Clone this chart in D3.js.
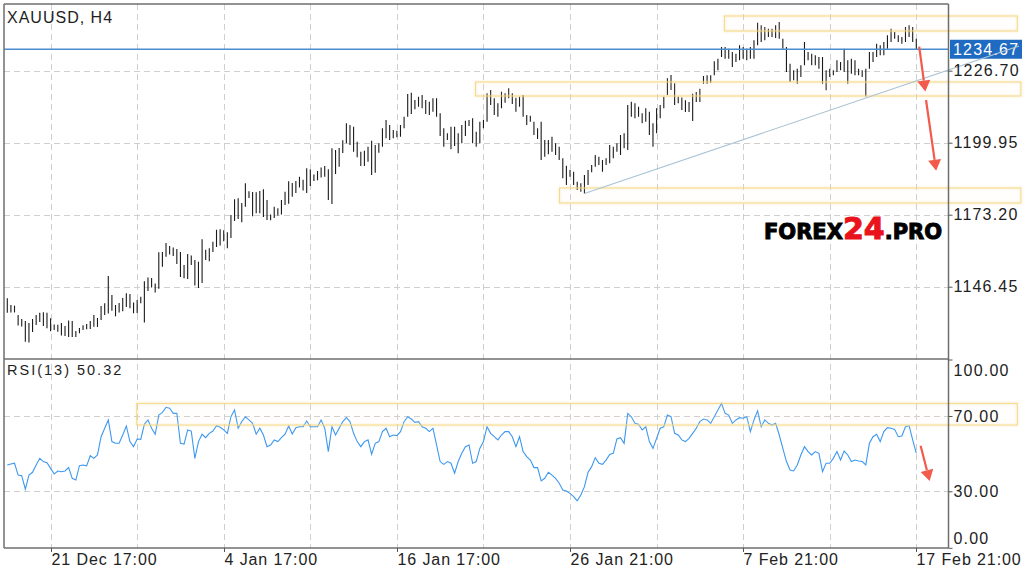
<!DOCTYPE html>
<html><head><meta charset="utf-8">
<script src="https://cdn.jsdelivr.net/npm/d3@7"></script>
<style>
body{margin:0;background:#fff;}
svg{display:block;font-family:"Liberation Sans",Arial,sans-serif;}
</style></head><body>
<svg id="c" width="1024" height="577"></svg>
<script>
// ---- DATA ----
const highs = [1142.15,1139.66,1139.40,1135.95,1134.46,1133.72,1132.97,1134.46,1135.95,1136.77,
1136.95,1136.77,1134.72,1132.42,1132.34,1132.97,1131.86,1133.90,1133.72,1130.00,
1131.12,1132.12,1132.60,1133.72,1135.95,1134.83,1139.29,1140.29,1150.44,1143.38,
1139.66,1140.41,1142.26,1144.01,1143.75,1140.59,1141.52,1142.75,1148.47,1149.88,
1149.69,1147.65,1159.28,1159.35,1162.70,1161.58,1161.02,1160.47,1159.35,1154.52,
1158.61,1158.05,1156.38,1155.75,1164.11,1160.21,1160.73,1163.18,1167.64,1167.79,
1167.41,1166.71,1173.10,1178.93,1179.30,1177.56,1184.87,1181.90,1181.64,1181.57,
1182.01,1182.65,1178.67,1173.28,1176.18,1175.59,1178.67,1181.75,1185.65,1184.99,
1185.73,1187.33,1186.21,1190.45,1190.00,1188.14,1189.44,1190.74,1191.30,1190.07,
1197.88,1197.24,1197.99,1200.85,1207.16,1206.53,1205.90,1200.33,1196.61,1196.98,
1198.47,1200.70,1199.10,1199.73,1205.31,1208.39,1206.53,1204.67,1204.41,1206.53,
1209.62,1218.05,1218.53,1215.82,1217.05,1217.68,1215.82,1215.19,1216.45,1216.45,
1210.88,1205.31,1203.45,1205.90,1205.90,1203.45,1206.53,1208.13,1208.39,1209.02,
1204.04,1207.76,1208.39,1218.31,1219.53,1216.45,1214.59,1218.90,1218.31,1220.17,
1218.31,1216.67,1217.05,1217.68,1210.25,1209.99,1207.76,1205.31,1207.76,1200.96,
1200.96,1202.19,1199.73,1198.47,1194.16,1191.41,1189.81,1189.18,1185.47,1184.87,
1187.96,1189.81,1191.67,1195.39,1194.76,1193.53,1194.16,1199.10,1198.47,1199.73,
1202.82,1203.45,1213.96,1215.19,1214.59,1213.33,1210.88,1212.74,1211.47,1207.16,
1212.74,1213.96,1217.05,1223.88,1225.11,1222.02,1217.05,1216.75,1215.71,1215.08,
1218.16,1218.79,1220.02,1224.74,1225.00,1225.00,1230.20,1231.16,1235.51,1235.51,
1234.88,1233.65,1233.02,1236.14,1235.51,1234.88,1235.51,1238.00,1244.54,1243.57,
1242.94,1242.31,1242.31,1243.57,1244.80,1238.59,1235.51,1229.31,1226.85,1227.45,
1228.71,1237.37,1233.65,1233.02,1232.43,1231.79,1231.79,1226.85,1227.45,1226.85,
1230.57,1229.94,1234.88,1230.57,1231.16,1230.57,1227.45,1226.85,1227.45,1233.65,
1233.65,1236.74,1236.14,1237.37,1239.86,1242.31,1241.08,1239.86,1239.22,1242.94,
1243.57,1242.94,1238.59];
const lows = [1136.80,1136.88,1136.88,1132.05,1131.68,1126.03,1125.73,1129.63,1132.23,1133.35,
1131.86,1131.01,1129.89,1130.37,1129.74,1128.33,1128.15,1127.77,1127.77,1127.77,
1129.15,1130.37,1130.67,1130.75,1131.60,1131.49,1134.09,1135.95,1136.50,1137.51,
1135.46,1136.88,1137.32,1138.92,1138.44,1136.58,1136.58,1140.29,1133.16,1144.86,
1146.16,1144.31,1145.72,1153.89,1157.61,1158.42,1157.87,1154.89,1150.06,1149.58,
1149.32,1154.52,1146.91,1145.98,1147.84,1156.38,1155.93,1159.35,1161.21,1161.77,
1163.36,1160.73,1164.55,1170.87,1171.61,1170.39,1176.18,1179.41,1172.61,1173.73,
1173.73,1172.35,1171.24,1171.13,1171.98,1172.91,1173.28,1176.81,1177.30,1179.90,
1181.27,1183.31,1182.20,1181.27,1183.87,1185.73,1185.99,1187.03,1187.33,1178.67,
1177.18,1188.33,1191.04,1196.13,1199.73,1199.10,1196.61,1194.53,1191.30,1191.30,
1192.90,1187.96,1188.81,1196.24,1198.47,1201.59,1200.96,1201.59,1201.96,1202.19,
1205.31,1209.62,1210.62,1212.37,1213.33,1212.74,1210.62,1210.25,1211.47,1209.62,
1202.45,1198.47,1200.96,1197.51,1198.73,1196.02,1199.73,1202.45,1206.16,1199.73,
1198.47,1199.73,1205.31,1207.76,1213.96,1210.25,1209.62,1212.74,1214.82,1216.45,
1214.33,1211.47,1213.33,1209.62,1206.53,1207.76,1202.82,1201.33,1193.53,1194.76,
1195.65,1196.61,1195.39,1193.53,1186.73,1184.24,1187.33,1184.24,1182.38,1181.75,
1181.08,1184.24,1188.96,1191.04,1191.67,1189.18,1191.67,1192.30,1194.16,1196.61,
1195.39,1197.88,1197.24,1209.62,1209.02,1209.62,1207.16,1207.76,1202.82,1198.47,
1203.45,1209.02,1212.74,1217.68,1219.53,1213.96,1214.59,1212.10,1211.36,1211.36,
1208.02,1215.08,1215.08,1221.87,1221.87,1222.25,1225.00,1226.85,1231.79,1231.16,
1231.16,1228.08,1229.94,1230.57,1231.16,1230.57,1231.16,1231.16,1236.14,1237.37,
1238.00,1239.22,1239.22,1238.85,1238.59,1234.88,1226.22,1222.51,1223.14,1221.87,
1224.36,1228.71,1230.57,1228.71,1228.71,1227.45,1221.87,1219.42,1224.36,1225.00,
1226.22,1226.85,1226.22,1221.87,1225.59,1225.00,1225.00,1224.36,1217.12,1227.45,
1229.94,1231.79,1232.43,1232.43,1234.88,1237.37,1238.59,1237.37,1236.74,1237.37,
1239.22,1237.37,1234.50];
const rsiValues = [44.0,44.5,44.9,38.6,38.3,31.1,38.6,40.1,44.0,47.5,
45.8,45.2,42.2,39.2,40.8,40.4,40.8,42.6,36.9,36.0,
43.6,44.0,43.5,48.9,47.5,49.3,59.0,63.5,67.9,56.4,
55.5,55.5,59.9,64.7,56.4,53.7,57.8,57.6,65.6,67.9,
63.5,60.3,70.5,71.9,74.6,74.1,71.4,71.4,55.5,55.1,
62.6,62.0,47.5,56.4,60.3,58.5,60.8,62.0,64.9,64.0,
62.6,60.8,69.6,73.2,63.5,67.0,69.6,67.9,66.1,60.3,
63.5,59.9,53.7,54.6,57.3,56.4,58.5,60.3,64.7,60.4,
63.8,64.3,64.3,67.3,64.3,64.3,64.3,67.9,63.5,51.1,
64.3,59.9,63.5,67.0,69.1,67.0,60.8,56.4,53.7,56.4,
57.3,49.7,55.5,56.4,61.7,63.5,59.0,59.9,59.6,61.7,
67.0,69.6,68.4,66.6,67.0,64.3,63.5,61.7,63.5,54.6,
45.8,44.3,45.8,44.9,39.6,45.8,50.2,53.7,54.6,44.9,
45.8,52.8,56.4,64.3,60.8,59.0,57.3,59.9,61.7,61.7,
59.0,53.7,59.0,51.1,48.4,46.6,42.6,42.6,35.5,36.9,
40.1,38.6,36.9,34.3,30.7,30.2,28.9,27.2,24.9,28.0,
32.5,40.1,43.1,47.9,44.9,44.3,46.6,49.6,50.2,57.8,
58.5,55.5,71.4,69.6,66.1,65.6,62.6,64.3,56.4,52.8,
58.1,63.5,64.3,70.5,69.6,60.8,59.9,57.3,56.4,58.1,
60.8,63.5,67.0,68.4,67.9,66.1,69.6,73.2,76.7,71.4,
70.5,66.1,67.9,69.1,68.8,69.6,61.7,67.9,72.7,64.3,
67.9,66.1,65.2,66.1,59.9,52.8,45.8,41.3,40.8,44.0,
49.3,53.7,51.1,49.3,51.1,50.2,40.4,44.9,44.9,47.5,
51.1,46.6,51.4,49.3,45.8,46.6,46.1,45.8,44.0,55.5,
59.0,60.3,56.4,61.7,63.8,63.5,62.9,59.0,59.4,64.3,
64.9,57.3,50.32];
const priceTicks = [1146.45, 1173.20, 1199.95, 1226.70];
const rsiTicks = [0, 30, 70, 100];
const rsiGrid = [30, 70];
const gridIndex = [12, 36, 60, 84, 108, 132, 156, 180, 204, 228, 252];
const timeTickIndex = [12, 60, 108, 156, 204, 252];
const timeTickLabels = ["21 Dec 17:00", "4 Jan 17:00", "16 Jan 17:00", "26 Jan 21:00", "7 Feb 21:00", "17 Feb 21:00"];
const lastPrice = 1234.67;
const symbolTitle = "XAUUSD, H4";
const rsiTitle = "RSI(13) 50.32";
// annotation boxes: [startIndex, endIndex, top, bottom]
const priceBoxes = [[198.8, 280, 1247.03, 1241.45], [129.8, 281, 1222.51, 1217.30], [153.1, 281, 1183.13, 1177.55]];
const rsiBoxes = [[35.9, 280, 76.7, 65.2]];
const trendLine = [[160, 1181.08], [280.5, 1235.87]];
const priceArrows = [[[252.8, 1235.62], [254.5, 1219.0]], [[254.7, 1215.82], [257.5, 1189.5]]];
const rsiArrows = [[[253.2, 54.2], [255.7, 35.5]]];

// ---- SCALES ----
const svg = d3.select("#c");
const L = 4, R = 948.5, T = 4, SEP = 359, B = 548;
const x = d3.scaleLinear().domain([0, 252]).range([7.3, 916.3]);
const yP = d3.scaleLinear().domain([1146.45, 1226.70]).range([286.7, 70.7]);
const yR = d3.scaleLinear().domain([0, 100]).range([547.8, 359.5]);

const defs = svg.append("defs");
defs.append("clipPath").attr("id", "cm").append("rect").attr("x", L).attr("y", T).attr("width", R - L).attr("height", SEP - T);
defs.append("clipPath").attr("id", "cr").append("rect").attr("x", L).attr("y", SEP).attr("width", R - L).attr("height", B - SEP);
const blur = defs.append("filter").attr("id", "glow").attr("x", "-5%").attr("y", "-50%").attr("width", "110%").attr("height", "200%");
blur.append("feGaussianBlur").attr("stdDeviation", 1.3);

const gridColor = "#cfcfcf";
const dash = "6,4";
// vertical grid
svg.append("g").selectAll("line").data(gridIndex).join("line")
  .attr("x1", d => Math.round(x(d)) + 0.5).attr("x2", d => Math.round(x(d)) + 0.5)
  .attr("y1", T).attr("y2", B).attr("stroke", gridColor).attr("stroke-dasharray", dash);
// horizontal grid main
svg.append("g").selectAll("line").data(priceTicks).join("line")
  .attr("x1", L).attr("x2", R).attr("y1", d => Math.round(yP(d)) + 0.5).attr("y2", d => Math.round(yP(d)) + 0.5)
  .attr("stroke", gridColor).attr("stroke-dasharray", dash);
svg.append("g").selectAll("line").data(rsiGrid).join("line")
  .attr("x1", L).attr("x2", R).attr("y1", d => Math.round(yR(d)) + 0.5).attr("y2", d => Math.round(yR(d)) + 0.5)
  .attr("stroke", gridColor).attr("stroke-dasharray", dash);

// bars
const idx = d3.range(highs.length);
svg.append("g").attr("clip-path", "url(#cm)").selectAll("line").data(idx).join("line")
  .attr("x1", i => x(i)).attr("x2", i => x(i))
  .attr("y1", i => yP(highs[i])).attr("y2", i => yP(lows[i]))
  .attr("stroke", "#1a1a1a").attr("stroke-width", 1.1);

// current price line
svg.append("line").attr("x1", L).attr("x2", R).attr("y1", yP(lastPrice)).attr("y2", yP(lastPrice))
  .attr("stroke", "#4b8ccc").attr("stroke-width", 1.3);

// RSI line
svg.append("path").datum(rsiValues).attr("clip-path", "url(#cr)")
  .attr("d", d3.line().x((d, i) => x(i)).y(d => yR(d)))
  .attr("fill", "none").attr("stroke", "#3d98f0").attr("stroke-width", 1.1);

// boxes
function drawBox(b, ys) {
  const g = svg.append("g");
  const rx = x(b[0]), rw = x(b[1]) - x(b[0]), ry = ys(b[2]), rh = ys(b[3]) - ys(b[2]);
  g.append("rect").attr("x", rx).attr("y", ry).attr("width", rw).attr("height", rh)
    .attr("fill", "none").attr("stroke", "#f0d690").attr("stroke-width", 2.5).attr("opacity", 0.3).attr("filter", "url(#glow)");
  g.append("rect").attr("x", rx).attr("y", ry).attr("width", rw).attr("height", rh)
    .attr("fill", "rgba(255,245,215,0.06)").attr("stroke", "#f6d67c").attr("stroke-width", 0.9);
}
priceBoxes.forEach(b => drawBox(b, yP));
rsiBoxes.forEach(b => drawBox(b, yR));

// price label
const lp = yP(lastPrice);
svg.append("rect").attr("x", 950).attr("y", lp - 9.5).attr("width", 72).attr("height", 19).attr("fill", "#1f6bc1");
svg.append("text").attr("x", 953).attr("y", lp + 6).attr("fill", "#fff").attr("font-size", 16)
  .attr("letter-spacing", 1.2).text(d3.format(".2f")(lastPrice));

// trend line
svg.append("line").attr("x1", x(trendLine[0][0])).attr("y1", yP(trendLine[0][1]))
  .attr("x2", x(trendLine[1][0])).attr("y2", yP(trendLine[1][1]))
  .attr("stroke", "#a9c3d6").attr("stroke-width", 1.1);

// arrows
function arrow(a, ys) {
  const x1 = x(a[0][0]), y1 = ys(a[0][1]), x2 = x(a[1][0]), y2 = ys(a[1][1]);
  const ang = Math.atan2(y2 - y1, x2 - x1), hl = 11, hw = 6.5;
  const bx = x2 - hl * Math.cos(ang), by = y2 - hl * Math.sin(ang);
  svg.append("line").attr("x1", x1).attr("y1", y1).attr("x2", bx).attr("y2", by)
    .attr("stroke", "#f25a4b").attr("stroke-width", 2.2);
  const px = -Math.sin(ang), py = Math.cos(ang);
  svg.append("path").attr("d", `M${x2},${y2}L${bx + px * hw},${by + py * hw}L${bx - px * hw},${by - py * hw}Z`)
    .attr("fill", "#f25a4b");
}
priceArrows.forEach(a => arrow(a, yP));
rsiArrows.forEach(a => arrow(a, yR));

// frame
const frame = svg.append("g").attr("stroke", "#6e6e6e").attr("stroke-width", 1.5);
frame.append("line").attr("x1", L).attr("x2", L).attr("y1", T).attr("y2", B);
frame.append("line").attr("x1", R).attr("x2", R).attr("y1", T).attr("y2", B);
frame.append("line").attr("x1", L).attr("x2", R).attr("y1", T).attr("y2", T);
frame.append("line").attr("x1", L).attr("x2", R).attr("y1", SEP).attr("y2", SEP);
frame.append("line").attr("x1", L).attr("x2", R).attr("y1", B).attr("y2", B);

// right axes
const axP = svg.append("g").attr("transform", `translate(${R},0)`)
  .call(d3.axisRight(yP).tickValues(priceTicks).tickSize(4).tickFormat(d3.format(".2f")));
const axR = svg.append("g").attr("transform", `translate(${R},0)`)
  .call(d3.axisRight(yR).tickValues(rsiTicks).tickSize(4).tickFormat(d3.format(".2f")));
[axP, axR].forEach(a => {
  a.select(".domain").remove();
  a.selectAll("line").attr("stroke", "#555");
  a.selectAll("text").attr("x", 5).attr("fill", "#222").attr("font-size", 16).attr("letter-spacing", 1.2)
    .attr("font-family", "Liberation Sans, Arial, sans-serif");
});
axR.selectAll(".tick text").attr("dy", d => d === 100 ? "1.0em" : d === 0 ? "-0.3em" : "0.35em");

// bottom axis
const axB = svg.append("g").attr("transform", `translate(0,${B})`)
  .call(d3.axisBottom(x).tickValues(timeTickIndex).tickSize(4).tickFormat((d, i) => timeTickLabels[i]));
axB.select(".domain").remove();
axB.selectAll(".tick").attr("transform", d => `translate(${Math.round(x(d)) + 0.5},0)`);
axB.selectAll("line").attr("stroke", "#555");
axB.selectAll("text").attr("text-anchor", "start").attr("x", 0).attr("y", 6).attr("dy", "0.71em")
  .attr("fill", "#222").attr("font-size", 16).attr("letter-spacing", 0.9)
  .attr("font-family", "Liberation Sans, Arial, sans-serif");

// titles
svg.append("text").attr("x", 7).attr("y", 23).attr("font-size", 16).attr("letter-spacing", 1).attr("fill", "#1e1e1e").text(symbolTitle);
svg.append("text").attr("x", 7).attr("y", 375).attr("font-size", 14.5).attr("letter-spacing", 2).attr("fill", "#1e1e1e").text(rsiTitle);

// watermark
const wm = svg.append("text").attr("x", 764).attr("y", 239).attr("font-family", "DejaVu Sans, sans-serif")
  .attr("font-weight", "bold").attr("font-size", 21).attr("stroke", "#000").attr("stroke-width", 1).attr("fill", "#000");
wm.append("tspan").text("FOREX");
wm.append("tspan").attr("fill", "#e8131b").attr("stroke", "#e8131b").attr("font-size", 30).text("24");
wm.append("tspan").text(".PRO");
</script>
</body></html>
